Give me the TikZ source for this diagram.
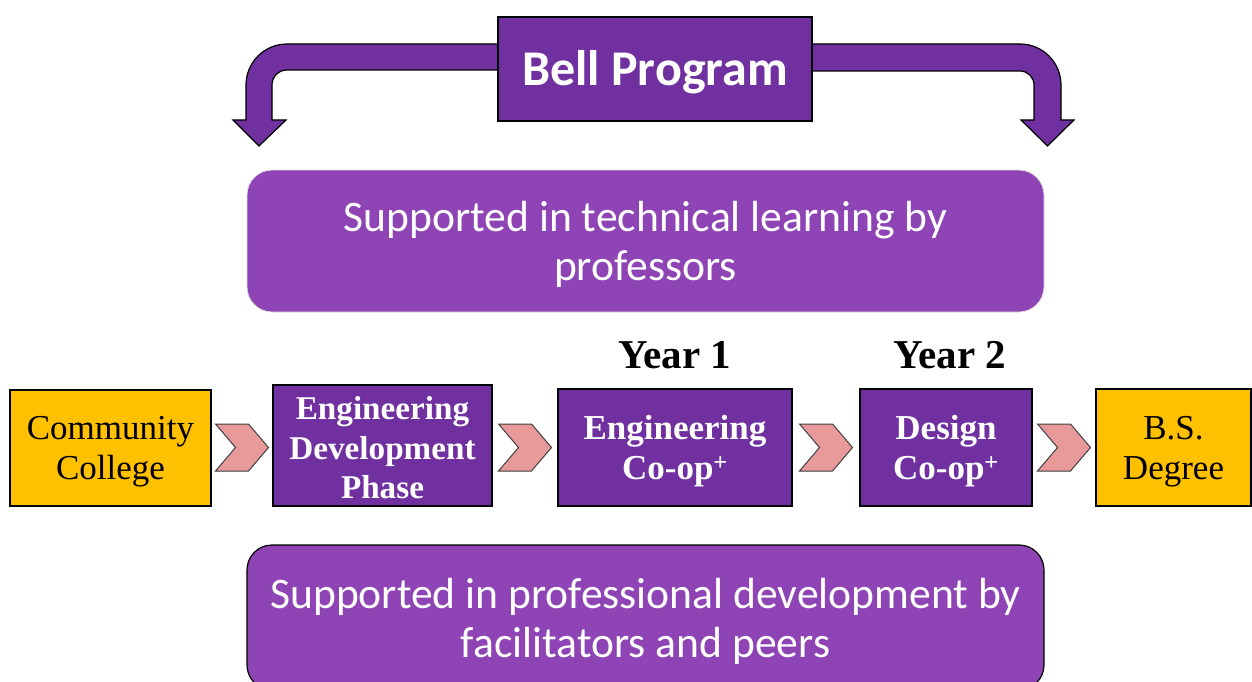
\documentclass[tikz,border=0pt]{standalone}
\usepackage{fontspec}
\setmainfont{Liberation Serif}
\newfontfamily\carl{Carlito}
\usetikzlibrary{calc}
\definecolor{dpurple}{RGB}{112,48,160}
\definecolor{lpurple}{RGB}{142,68,180}
\definecolor{gold}{RGB}{255,192,0}
\definecolor{pinkc}{RGB}{232,154,154}
\definecolor{lgray}{RGB}{225,225,225}
\tikzset{
  stagebox/.style={draw=black, line width=1.2pt, inner sep=0pt},
  purplebox/.style={stagebox, fill=dpurple},
  goldbox/.style={stagebox, fill=gold},
  purpletext/.style={inner sep=0pt, align=center, text=white, font=\fontsize{35}{40}\selectfont\bfseries},
  goldtext/.style={inner sep=0pt, align=center, text=black, font=\fontsize{35}{40}\selectfont},
  supportbox/.style={rounded corners=25pt, fill=lpurple, inner sep=0pt, minimum width=797pt},
  supporttext/.style={inner sep=0pt, align=center, text=white, font=\carl\fontsize{43.6}{49}\selectfont},
  bentarrow/.style={fill=dpurple, draw=black, line width=1.2pt, line join=miter},
  chevshape/.style={fill=pinkc, draw=black!75, line width=1pt},
  yearlabel/.style={font=\fontsize{41}{42}\selectfont\bfseries}
}
\newcommand{\chevron}[1]{%
  \draw[chevshape, shift={#1}] (-26.5,-23.5) -- (6.5,-23.5) -- (26.5,0) -- (6.5,23.5) -- (-26.5,23.5) -- (-6.5,0) -- cycle;}
\begin{document}
\begin{tikzpicture}[x=1pt,y=-1pt]
\useasboundingbox (0,0) rectangle (1252,682);
% bent arrows
\draw[bentarrow] (560,44) -- (287,44) arc[start angle=270, end angle=180, radius=41]
  -- (246,120) -- (233,120) -- (259,146) -- (286,120) -- (272,120) -- (272,85)
  arc[start angle=180, end angle=270, radius=15] -- (560,70);
\draw[bentarrow] (750,44) -- (1020,44) arc[start angle=270, end angle=360, radius=41]
  -- (1061,120) -- (1074,120) -- (1047.5,146) -- (1021,120) -- (1034,120) -- (1034,85)
  arc[start angle=0, end angle=-90, radius=14] -- (750,71);
% Bell Program
\node[draw=black, line width=1.2pt, fill=dpurple, minimum width=314pt, minimum height=104pt, inner sep=0pt] (bell) at (655,69) {};
\node[text=white, inner sep=0pt, font=\carl\fontsize{50}{52}\selectfont\bfseries] (bell-t) at ($(bell.center)+(0,3.5)$) {Bell Program};
% support boxes
\node[supportbox, draw=lgray, line width=0.8pt, minimum height=142pt] (tech) at (645.5,241) {};
\node[supporttext] (tech-t) at ($(tech.center)+(0,3)$) {Supported in technical learning by\\professors};
\node[supportbox, draw=black, line width=1.2pt, minimum height=145pt] (prof) at (645.5,617.5) {};
\node[supporttext] (prof-t) at ($(prof.center)+(0,3.5)$) {Supported in professional development by\\facilitators and peers};
% stages
\node[goldbox, minimum width=201pt, minimum height=116pt] (cc) at (110.5,448) {};
\node[goldtext] (cc-t) at ($(cc.center)+(0,4)$) {Community\\College};
\node[purplebox, minimum width=219pt, minimum height=121pt] (edp) at (382.5,445.5) {};
\node[purpletext, font=\fontsize{33.2}{39.5}\selectfont\bfseries] (edp-t) at ($(edp.center)+(0,2.5)$) {Engineering\\Development\\Phase};
\node[purplebox, minimum width=234pt, minimum height=117pt] (ec) at (675,447.5) {};
\node[purpletext] (ec-t) at ($(ec.center)+(0,4)$) {Engineering\\Co-op\textsuperscript{+}};
\node[purplebox, minimum width=172pt, minimum height=117pt] (dc) at (946,447.5) {};
\node[purpletext] (dc-t) at ($(dc.center)+(0,4)$) {Design\\Co-op\textsuperscript{+}};
\node[goldbox, minimum width=155pt, minimum height=117pt] (bs) at (1173.5,447.5) {};
\node[goldtext] (bs-t) at ($(bs.center)+(0,4)$) {B.S.\\Degree};
% year labels
\node[yearlabel] (y1) at (675,355) {Year 1};
\node[yearlabel] (y2) at (950,355) {Year 2};
% chevrons
\chevron{($(cc.east |- 0,447.5)!0.5!(edp.west |- 0,447.5)$)}
\chevron{($(edp.east |- 0,447.5)!0.5!(ec.west)$)}
\chevron{($(ec.east)!0.5!(dc.west)$)}
\chevron{($(dc.east)!0.5!(bs.west)$)}
\end{tikzpicture}
\end{document}
